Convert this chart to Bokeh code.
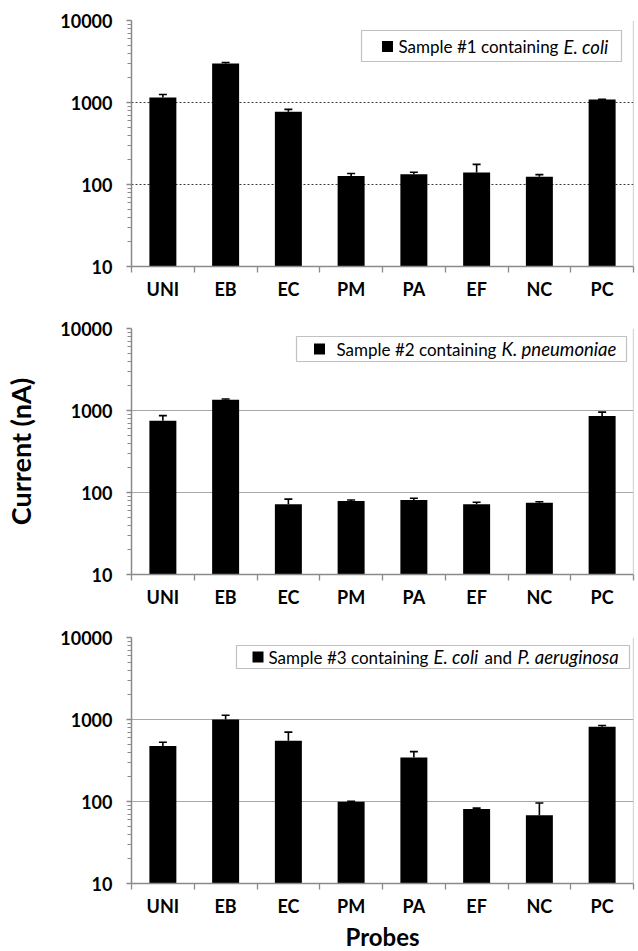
import numpy as np
from bokeh.plotting import figure
from bokeh.layouts import column
from bokeh.models import (ColumnDataSource, Range1d, FixedTicker, CustomJSTickFormatter,
                          PrintfTickFormatter, Whisker, TeeHead, BoxAnnotation, Label, Span)
from bokeh.embed import file_html
from bokeh.resources import INLINE

probes = ["UNI", "EB", "EC", "PM", "PA", "EF", "NC", "PC"]

s1_mean = [1150, 3000, 770, 127, 133, 140, 124, 1085]
s1_err = [100, 70, 55, 9, 8, 36, 8, 12]

s2_mean = [750, 1350, 72, 79, 81, 72, 75, 855]
s2_err = [115, 30, 11, 2, 4, 4, 2, 100]

s3_mean = [475, 1000, 552, 99, 343, 81, 68, 815]
s3_err = [52, 127, 150, 1.5, 63, 2, 28, 30]

legend_parts = [
    [("Sample #1 containing", "normal"), ("E. coli", "italic")],
    [("Sample #2 containing", "normal"), ("K. pneumoniae", "italic")],
    [("Sample #3 containing", "normal"), ("E. coli", "italic"), ("and", "normal"),
     ("P. aeruginosa", "italic")],
]

FONT = "Lato"
FW, FH = 502, 246
YMIN, YMAX = 10, 10000

# legend layout, pixel offsets relative to the frame's top-left corner
legend_boxes = [(230, 490, 10, 41), (165, 495, 8, 33), (105, 498, 8, 31)]
legend_marks = [(256, 26), (188, 20.5), (126.5, 19.5)]
legend_text_x = [[267, 432], [205, 370], [137, 302, 353, 386]]


def px_to_x(rx):
    return rx / FW * len(probes)


def px_to_y(ry):
    return 10 ** (np.log10(YMIN) + (np.log10(YMAX) - np.log10(YMIN)) * (1 - ry / FH))


def make_panel(i, means, errs, top_border, bottom_border, dotted, ylabel=None, xlabel=None):
    p = figure(frame_width=FW, frame_height=FH, y_axis_type="log",
               x_range=Range1d(0, len(probes)), y_range=Range1d(YMIN, YMAX),
               output_backend="svg", toolbar_location=None,
               min_border_left=131, min_border_right=5,
               min_border_top=top_border, min_border_bottom=bottom_border)
    p.outline_line_color = None
    p.background_fill_color = "white"

    x = np.arange(len(probes)) + 0.5
    src = ColumnDataSource(dict(x=x, top=means, upper=np.array(means) + np.array(errs),
                                bottom=[YMIN] * len(probes)))
    p.vbar(x="x", top="top", bottom="bottom", width=0.43, source=src,
           fill_color="black", line_color=None)
    w = Whisker(base="x", lower="top", upper="upper", source=src, dimension="height",
                line_color="black", line_width=1.6,
                upper_head=TeeHead(size=8, line_color="black", line_width=1.6),
                lower_head=None)
    p.add_layout(w)

    # x axis
    xa = p.xaxis[0]
    xa.ticker = FixedTicker(ticks=list(x), minor_ticks=list(range(len(probes) + 1)))
    xa.formatter = CustomJSTickFormatter(args=dict(cats=probes),
                                         code="return cats[Math.floor(tick)];")
    xa.axis_line_color = "#8a8a8a"
    xa.axis_line_width = 1.5
    xa.major_tick_line_color = None
    xa.major_tick_out = 0
    xa.major_tick_in = 0
    xa.minor_tick_line_color = "#8a8a8a"
    xa.minor_tick_line_width = 1.3
    xa.minor_tick_out = 6
    xa.minor_tick_in = 0
    xa.major_label_text_font = FONT
    xa.major_label_text_font_style = "bold"
    xa.major_label_text_font_size = "18px"
    xa.major_label_text_color = "black"
    xa.major_label_standoff = 5
    if xlabel:
        xa.axis_label = xlabel
        xa.axis_label_text_font = FONT
        xa.axis_label_text_font_style = "bold"
        xa.axis_label_text_font_size = "24px"
        xa.axis_label_text_color = "black"
        xa.axis_label_standoff = 2

    # y axis
    ya = p.yaxis[0]
    minors = [k * 10 ** d for d in range(1, 4) for k in range(2, 10)]
    ya.ticker = FixedTicker(ticks=[10, 100, 1000, 10000], minor_ticks=minors)
    ya.formatter = PrintfTickFormatter(format="%d")
    ya.axis_line_color = "#8a8a8a"
    ya.axis_line_width = 1.5
    ya.major_tick_line_color = "#8a8a8a"
    ya.major_tick_line_width = 1.3
    ya.major_tick_out = 5
    ya.major_tick_in = 0
    ya.minor_tick_line_color = "#8a8a8a"
    ya.minor_tick_out = 4
    ya.minor_tick_in = 0
    ya.major_label_text_font = FONT
    ya.major_label_text_font_style = "bold"
    ya.major_label_text_font_size = "18px"
    ya.major_label_text_color = "black"
    ya.major_label_standoff = 14
    if ylabel:
        ya.axis_label = ylabel
        ya.axis_label_text_font = FONT
        ya.axis_label_text_font_style = "bold"
        ya.axis_label_text_font_size = "27px"
        ya.axis_label_text_color = "black"
        ya.axis_label_standoff = 20

    p.xgrid.grid_line_color = None
    p.ygrid.ticker = FixedTicker(ticks=[100, 1000, 10000])
    if dotted:
        p.ygrid.grid_line_color = "#3a3a3a"
        p.ygrid.grid_line_dash = "2 2"
        p.ygrid.grid_line_width = 1.2
    else:
        p.ygrid.grid_line_color = "#a8a8a8"
        p.ygrid.grid_line_width = 1

    p.add_layout(Span(location=len(probes), dimension="height",
                      line_color="#b0b0b0", line_width=1.2))

    # legend box (manual, to allow mixed italic text)
    l, r, t, b = legend_boxes[i]
    p.add_layout(BoxAnnotation(left=px_to_x(l), right=px_to_x(r),
                               top=px_to_y(t), bottom=px_to_y(b),
                               fill_color="white", fill_alpha=1.0,
                               line_color="#333333", line_width=1.2))
    mx, my = legend_marks[i]
    p.scatter([px_to_x(mx)], [px_to_y(my)], marker="square", size=11,
              fill_color="black", line_color=None, level="overlay")
    for (txt, style), tx in zip(legend_parts[i], legend_text_x[i]):
        size = "18.5px" if style == "italic" else "17px"
        p.add_layout(Label(x=px_to_x(tx), y=px_to_y(my), text=txt,
                           text_font=FONT, text_font_style=style,
                           text_font_size=size, text_color="black",
                           text_baseline="middle", text_align="left"))
    return p


p1 = make_panel(0, s1_mean, s1_err, 20, 42, True)
p2 = make_panel(1, s2_mean, s2_err, 20, 43, False, ylabel="Current (nA)")
p3 = make_panel(2, s3_mean, s3_err, 20, 64, False, xlabel="Probes")

layout = column(p1, p2, p3, spacing=0)
open("out.html", "w").write(file_html(layout, INLINE))
